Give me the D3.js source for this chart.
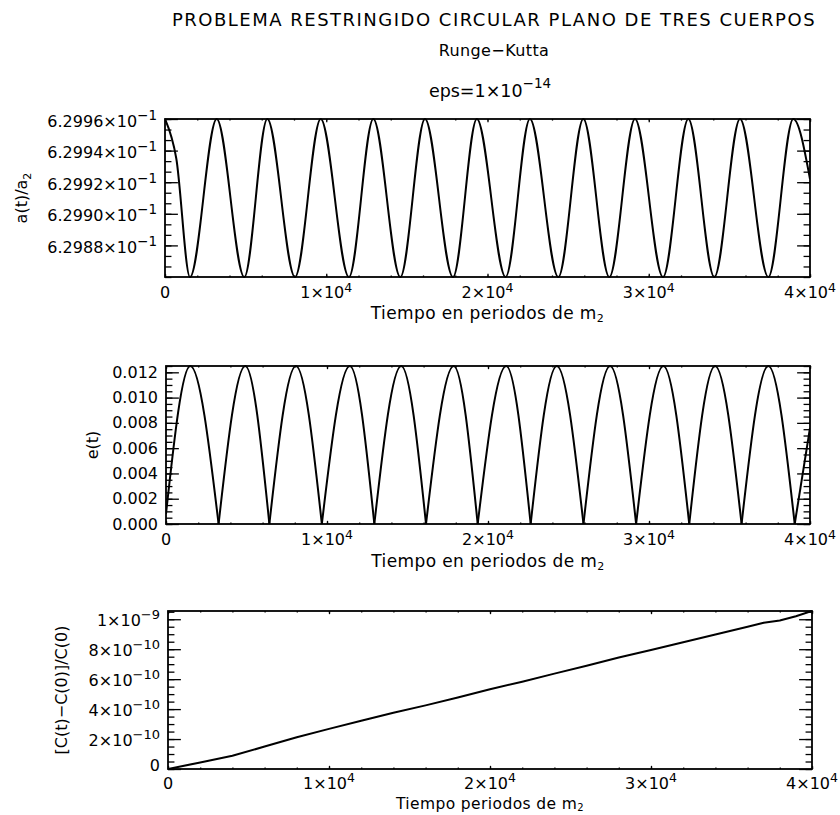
<!DOCTYPE html>
<html>
<head>
<meta charset="utf-8">
<script src="https://cdn.jsdelivr.net/npm/d3@7"></script>
<style>
  body { margin: 0; background: #fff; }
  svg { display: block; }
  text { font-family: "DejaVu Sans", sans-serif; fill: #000; }
</style>
</head>
<body>
<svg id="chart" width="840" height="815"></svg>
<script>
// ---- time axis (periods of m2) ----
const timeTicks = [0, 10000, 20000, 30000, 40000];
const timeTickBase = ["0", "1×10", "2×10", "3×10", "4×10"];
const timeTickExp = ["", "4", "4", "4", "4"];

// ---- a(t)/a2 ----
const aStartT = [0, 700];
const aStartV = [0.629960, 0.629935];
const aTroughT = [1550, 4918, 8062, 11407, 14594, 17860, 21125, 24392, 27555, 30884, 34066, 37415];
const aPeakT = [3206, 6344, 9656, 12918, 16124, 19340, 22630, 25942, 29147, 32453, 35659, 38964];
const aMin = 0.62986, aMax = 0.62996;
const aEndT = 40000, aEndV = 0.629922;
const aTicks = [0.62988, 0.62990, 0.62992, 0.62994, 0.62996];
const aTickBase = ["6.2988×10", "6.2990×10", "6.2992×10", "6.2994×10", "6.2996×10"];
const aTickExp = ["−1", "−1", "−1", "−1", "−1"];

// ---- e(t) ----
const eStartT = 0, eStartV = 0.0008;
const ePeakT = [1509, 4923, 8070, 11420, 14610, 17870, 21130, 24274, 27584, 30893, 34103, 37412];
const eTroughT = [3266, 6420, 9680, 12940, 16150, 19360, 22650, 25930, 29200, 32500, 35750, 39050];
const eMin = 0, eMax = 0.0125;
const eEndT = 40000, eEndV = 0.0076;
const eTicks = [0, 0.002, 0.004, 0.006, 0.008, 0.010, 0.012];
const eTickText = ["0.000", "0.002", "0.004", "0.006", "0.008", "0.010", "0.012"];

// ---- [C(t)-C(0)]/C(0) ----
const cT = [0, 2000, 4000, 6000, 8000, 10000, 12000, 14000, 16000, 18000, 20000,
            22000, 24000, 26000, 28000, 30000, 32000, 34000, 36000, 37000, 38000, 39000, 40000];
const cV = [0, 0.044e-9, 0.088e-9, 0.150e-9, 0.212e-9, 0.268e-9, 0.322e-9, 0.376e-9, 0.425e-9,
            0.478e-9, 0.532e-9, 0.583e-9, 0.637e-9, 0.690e-9, 0.744e-9, 0.795e-9, 0.846e-9,
            0.898e-9, 0.950e-9, 0.977e-9, 0.992e-9, 1.020e-9, 1.055e-9];
const cMax = 1.055e-9;
const cTicks = [0, 2e-10, 4e-10, 6e-10, 8e-10, 1e-9];
const cTickBase = ["0", "2×10", "4×10", "6×10", "8×10", "1×10"];
const cTickExp = ["", "−10", "−10", "−10", "−10", "−9"];

// ---- titles ----
const mainTitle = "PROBLEMA RESTRINGIDO CIRCULAR PLANO DE TRES CUERPOS";
const subTitle = "Runge−Kutta";
const epsBase = "eps=1×10", epsExp = "−14";

const svg = d3.select("#chart");

const boxes = [
  { x0: 165, x1: 810, y0: 119, y1: 277 },
  { x0: 166, x1: 810, y0: 366, y1: 524 },
  { x0: 168, x1: 812, y0: 611, y1: 769 }
];

function label(g, x, y, anchor, base, exp, size, expSize, rise) {
  const t = g.append("text")
    .attr("x", x).attr("y", y)
    .attr("text-anchor", anchor)
    .style("font-size", size + "px");
  t.append("tspan").text(base);
  if (exp) t.append("tspan").attr("dy", -rise).style("font-size", expSize + "px").text(exp);
  return t;
}

function drawFrame(b, x, y, yMajor, yMinor, labelGap) {
  const g = svg.append("g");
  const lenY = 0.02 * (b.x1 - b.x0);   // tick length on the vertical axes
  const lenX = 0.02 * (b.y1 - b.y0);   // tick length on the horizontal axes
  const xMinor = d3.range(0, 40001, 2000);
  const specs = [
    [() => d3.axisBottom(x), `translate(0,${b.y1})`, timeTicks, xMinor, lenX],
    [() => d3.axisTop(x), `translate(0,${b.y0})`, timeTicks, xMinor, lenX],
    [() => d3.axisLeft(y), `translate(${b.x0},0)`, yMajor, yMinor, lenY],
    [() => d3.axisRight(y), `translate(${b.x1},0)`, yMajor, yMinor, lenY]
  ];
  specs.forEach(([mk, tr, major, minor, len]) => {
    [[minor, len / 2], [major, len]].forEach(([vals, l]) => {
      g.append("g").attr("transform", tr)
        .call(mk().tickValues(vals).tickSize(-l).tickSizeOuter(0).tickFormat(""))
        .call(a => a.select(".domain").remove())
        .call(a => a.selectAll("line").attr("stroke", "#000").attr("stroke-width", 1.3));
    });
  });
  g.append("rect")
    .attr("x", b.x0).attr("y", b.y0)
    .attr("width", b.x1 - b.x0).attr("height", b.y1 - b.y0)
    .attr("fill", "none").attr("stroke", "#000").attr("stroke-width", 1.8);

  // time tick labels
  timeTicks.forEach((t, i) => {
    label(g, x(t), b.y1 + labelGap, "middle", timeTickBase[i], timeTickExp[i], 16, 12.5, 6.5);
  });
  return g;
}

function clipFor(id, b) {
  svg.append("clipPath").attr("id", id).append("rect")
    .attr("x", b.x0).attr("y", b.y0 - 1)
    .attr("width", b.x1 - b.x0).attr("height", b.y1 - b.y0 + 2);
  return `url(#${id})`;
}

function xTitle(b, y, text, size, subSize, subDrop) {
  const t = svg.append("text")
    .attr("x", (b.x0 + b.x1) / 2).attr("y", y)
    .attr("text-anchor", "middle")
    .style("font-size", size + "px").style("letter-spacing", "0.4px");
  t.append("tspan").text(text);
  t.append("tspan").attr("dy", subDrop).style("font-size", subSize + "px").text("2");
  return t;
}

function yTitle(b, xBase, parts) {
  const cy = (b.y0 + b.y1) / 2;
  const t = svg.append("text")
    .attr("transform", `translate(${xBase},${cy}) rotate(-90)`)
    .attr("text-anchor", "middle").style("font-size", "16px");
  parts.forEach(p => {
    const s = t.append("tspan").text(p.text);
    if (p.sub) s.attr("dy", 4).style("font-size", "11px");
  });
  return t;
}

// ================= Titles =================
svg.append("text").attr("x", 494).attr("y", 26).attr("text-anchor", "middle")
  .style("font-size", "18px").style("letter-spacing", "1.5px").text(mainTitle);
svg.append("text").attr("x", 494).attr("y", 56).attr("text-anchor", "middle")
  .style("font-size", "16px").style("letter-spacing", "0.4px").text(subTitle);
label(svg, 490, 97, "middle", epsBase, epsExp, 17.5, 13.5, 9);

// ================= Panel 1: a(t)/a2 =================
{
  const b = boxes[0];
  const x = d3.scaleLinear().domain([0, 40000]).range([b.x0, b.x1]);
  const y = d3.scaleLinear().domain([aMin, aMax]).range([b.y1, b.y0]);
  const minor = d3.range(0, 16).map(i => aMin + i * (aMax - aMin) / 15);
  const g = drawFrame(b, x, y, aTicks, minor, 21);
  aTicks.forEach((v, i) => {
    label(g, b.x0 - 8, y(v) + 7.5, "end", aTickBase[i], aTickExp[i], 16, 13.5, 7);
  });

  const pts = aStartT.map((t, i) => [t, aStartV[i]]);
  const ext = aTroughT.map(t => [t, aMin]).concat(aPeakT.map(t => [t, aMax]))
    .sort((p, q) => p[0] - q[0]);
  const series = pts.concat(ext, [[aEndT, aEndV]]);
  svg.append("path")
    .datum(series)
    .attr("clip-path", clipFor("clipA", b))
    .attr("fill", "none").attr("stroke", "#000").attr("stroke-width", 2)
    .attr("d", d3.line().x(d => x(d[0])).y(d => y(d[1])).curve(d3.curveMonotoneX));

  xTitle(b, b.y1 + 42, "Tiempo en periodos de m", 17, 11, 3);
  yTitle(b, 27, [{ text: "a(t)/a" }, { text: "2", sub: true }]);
}

// ================= Panel 2: e(t) =================
{
  const b = boxes[1];
  const x = d3.scaleLinear().domain([0, 40000]).range([b.x0, b.x1]);
  const y = d3.scaleLinear().domain([eMin, eMax]).range([b.y1, b.y0]);
  const minor = d3.range(0, 26).map(i => i * 0.0005);
  const g = drawFrame(b, x, y, eTicks, minor, 21);
  eTicks.forEach((v, i) => {
    label(g, b.x0 - 8, y(v) + 5.5, "end", eTickText[i], "", 16, 12, 0);
  });

  // rectified arches: each trough-to-trough arch drawn as its own smooth piece
  const ext = [[eStartT, eStartV]]
    .concat(ePeakT.map(t => [t, eMax]), eTroughT.map(t => [t, eMin]))
    .sort((p, q) => p[0] - q[0]);
  ext.push([eEndT, eEndV]);
  const arches = [];
  let cur = [];
  ext.forEach(p => {
    cur.push(p);
    if (p[1] === eMin && cur.length > 1) { arches.push(cur); cur = [p]; }
  });
  if (cur.length > 1) arches.push(cur);

  const line = d3.line().x(d => x(d[0])).y(d => y(d[1])).curve(d3.curveMonotoneX);
  const clip = clipFor("clipE", b);
  svg.append("g").attr("clip-path", clip)
    .selectAll("path").data(arches).join("path")
    .attr("fill", "none").attr("stroke", "#000").attr("stroke-width", 2)
    .attr("stroke-linejoin", "round")
    .attr("d", line);

  xTitle(b, b.y1 + 43, "Tiempo en periodos de m", 17, 11, 3);
  yTitle(b, 98, [{ text: "e(t)" }]);
}

// ================= Panel 3: relative change of C =================
{
  const b = boxes[2];
  const x = d3.scaleLinear().domain([0, 40000]).range([b.x0, b.x1]);
  const y = d3.scaleLinear().domain([0, cMax]).range([b.y1, b.y0]);
  const minor = d3.range(0, 22).map(i => i * 5e-11);
  const g = drawFrame(b, x, y, cTicks, minor, 19.5);
  cTicks.forEach((v, i) => {
    const dy = cTickExp[i] ? 7 : 2;
    label(g, b.x0 - 8, y(v) + dy, "end", cTickBase[i], cTickExp[i], 16, 13, 7);
  });

  svg.append("path")
    .datum(cT.map((t, i) => [t, cV[i]]))
    .attr("clip-path", clipFor("clipC", b))
    .attr("fill", "none").attr("stroke", "#000").attr("stroke-width", 2)
    .attr("stroke-linejoin", "round")
    .attr("d", d3.line().x(d => x(d[0])).y(d => y(d[1])));

  xTitle(b, b.y1 + 40, "Tiempo periodos de m", 15.5, 10, 2);
  yTitle(b, 67, [{ text: "[C(t)−C(0)]/C(0)" }]);
}
</script>
</body>
</html>
